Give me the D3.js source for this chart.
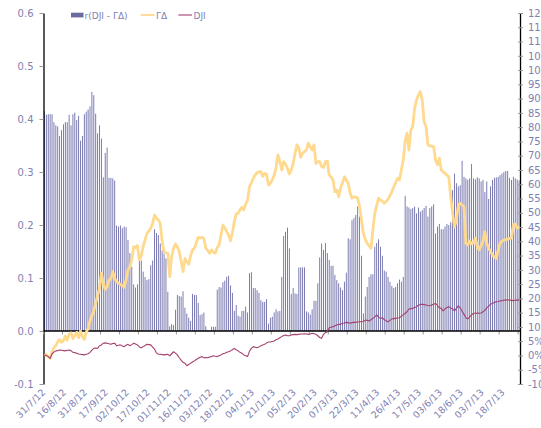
<!DOCTYPE html>
<html><head><meta charset="utf-8">
<script src="https://cdn.jsdelivr.net/npm/d3@7"></script>
<style>
html,body{margin:0;padding:0;background:#fff;}
svg{display:block;}
text{font-family:"DejaVu Sans",sans-serif;fill:#7f7fb2;}
</style></head><body>
<svg id="c" width="541" height="428"></svg>
<script>
// r(DJI - ΓΔ), left axis
const corr=[0.415,0.408,0.409,0.409,0.409,0.394,0.388,0.386,0.368,0.379,
0.39,0.394,0.394,0.408,0.388,0.409,0.412,0.398,0.406,0.359,
0.368,0.409,0.414,0.418,0.424,0.451,0.445,0.41,0.373,0.388,
0.363,0.29,0.336,0.346,0.289,0.289,0.288,0.284,0.199,0.197,
0.199,0.194,0.197,0.196,0.172,0.147,0.121,0.088,0.082,0.088,
0.14,0.133,0.112,0.102,0.096,0.098,0.124,0.133,0.192,0.185,
0.181,0.165,0.152,0.146,0.137,0.074,0.009,0.013,0.011,0.04,
0.068,0.066,0.065,0.075,0.044,0.033,0.025,0.019,0.07,0.068,
0.068,0.053,0.03,0.032,0.035,0.009,0.002,0.001,0.008,0.008,
0.008,0.078,0.083,0.082,0.092,0.095,0.102,0.104,0.086,0.072,
0.038,0.049,0.029,0.027,0.038,0.038,0.046,0.035,0.109,0.111,
0.081,0.081,0.077,0.072,0.058,0.055,0.055,0.06,0.014,0.025,
0.027,0.035,0.041,0.037,0.038,0.102,0.179,0.187,0.195,0.156,
0.07,0.081,0.071,0.07,0.12,0.12,0.12,0.12,0.037,0.035,
0.031,0.041,0.057,0.057,0.09,0.139,0.165,0.153,0.166,0.147,
0.134,0.123,0.123,0.106,0.096,0.09,0.082,0.077,0.093,0.11,
0.175,0.173,0.209,0.213,0.219,0.235,0.216,0.142,0.033,0.065,
0.083,0.102,0.107,0.107,0.159,0.166,0.173,0.159,0.142,0.114,
0.112,0.102,0.093,0.085,0.081,0.083,0.09,0.097,0.093,0.102,
0.255,0.235,0.233,0.23,0.232,0.235,0.222,0.233,0.225,0.228,
0.232,0.236,0.216,0.232,0.235,0.239,0.184,0.197,0.202,0.192,
0.192,0.197,0.202,0.2,0.205,0.266,0.297,0.279,0.273,0.275,
0.321,0.291,0.288,0.285,0.288,0.315,0.288,0.286,0.29,0.288,
0.282,0.285,0.262,0.282,0.249,0.273,0.285,0.289,0.29,0.291,
0.294,0.297,0.3,0.302,0.302,0.289,0.285,0.291,0.288,0.286,
0.284];
// ΓΔ cumulative return %, right axis
const gd=[0,0.3,-0.5,-1.0,1.2,2.8,3.4,4.8,5.6,4.6,
5.2,6.8,5.4,7.4,7.9,5.9,6.9,8.1,6.2,8.5,
6.6,5.6,8.2,9.4,12.2,14.0,15.6,18.4,21.0,23.5,
28.8,25.2,23.2,24.0,26.4,26.8,29.4,27.0,25.8,25.5,
24.8,24.5,23.9,26.5,30.0,31.0,33.5,38.1,37.8,38.5,
33.5,35.0,38.1,40.5,42.8,43.5,44.6,46.3,49.2,48.1,
47.5,46.3,40.0,36.4,36.0,35.8,27.6,34.6,37.5,39.1,
38.0,36.5,32.9,29.4,34.0,32.9,32.0,35.0,37.0,37.6,
39.5,41.4,41.2,41.4,41.0,37.6,36.8,35.8,37.0,36.2,
35.8,37.8,38.7,42.2,45.7,44.6,43.4,42.2,40.2,43.0,
46.9,49.6,49.8,51.0,51.9,51.0,53.0,54.5,59.1,60.5,
62.1,63.2,64.1,64.3,64.4,62.7,63.8,63.5,59.7,60.3,
61.5,63.2,65.6,70.3,67.9,65.0,67.9,67.0,65.6,63.6,
65.0,67.3,70.8,73.8,72.6,69.4,70.8,71.5,72.0,74.4,
73.0,72.0,73.8,67.3,67.9,67.9,66.2,65.9,67.9,68.1,
63.2,62.6,61.5,57.4,58.0,55.6,58.6,60.5,62.6,61.5,
60.3,57.0,55.1,55.6,55.6,55.1,52.1,47.5,42.8,40.7,
39.3,38.5,37.6,44.0,49.8,52.5,55.1,54.5,54.0,53.3,
54.0,54.7,56.0,57.4,59.1,60.5,62.1,61.5,65.0,68.5,
75.0,77.9,72.0,79.0,80.2,86.6,89.5,91.3,92.4,89.5,
81.9,80.2,73.8,73.4,73.4,73.2,68.5,66.8,69.1,65.0,
64.4,63.8,63.2,62.6,55.6,49.8,45.1,47.5,52.7,53.3,
52.7,52.1,39.3,38.7,40.1,39.1,39.5,41.1,38.1,37.0,
38.5,39.9,43.4,39.3,37.5,36.4,35.2,34.5,34.0,37.0,
39.3,40.0,40.5,40.5,40.8,41.0,41.1,45.7,46.1,44.6,
45.2];
// DJI cumulative return %, right axis
const dji=[0.2,0.0,-0.4,-1.0,0.6,1.2,1.6,1.7,1.9,1.8,
1.7,1.6,1.8,1.9,1.7,1.1,1.0,0.8,0.5,0.4,
0.3,0.2,0.4,0.6,1.1,1.9,2.5,2.6,2.5,3.4,
3.7,4.3,4.4,4.3,4.1,3.9,4.2,4.3,3.4,3.6,
3.7,3.3,3.1,3.6,3.9,3.4,3.8,4.3,4.0,3.7,
3.0,2.7,3.1,3.5,3.9,3.8,3.7,2.9,2.2,0.9,
0.4,0.4,0.3,0.2,0.3,0.4,-0.1,0.6,1.3,0.8,
0.2,-0.8,-1.6,-2.4,-2.7,-3.6,-3.2,-2.7,-2.3,-1.9,
-1.4,-1.0,-0.6,-0.4,-0.8,-0.7,-0.8,-0.5,-0.4,-0.1,
-0.3,-0.4,-0.1,0.2,0.6,0.8,1.1,1.3,1.6,2.0,
2.5,2.0,1.6,1.1,0.8,0.2,-0.1,-0.4,1.5,2.5,
3.1,2.9,2.7,3.0,3.4,3.7,3.9,4.4,4.7,4.7,
4.9,5.1,5.5,5.8,6.2,6.6,7.0,7.2,6.9,6.9,
7.2,7.3,7.4,7.3,7.4,7.5,7.5,7.6,7.5,7.4,
7.5,7.8,7.6,7.4,6.9,6.3,6.0,7.4,8.0,8.3,
9.7,9.9,10.1,10.4,10.7,10.9,10.9,11.3,11.4,11.6,
11.5,11.3,11.5,11.6,11.6,11.7,11.8,11.8,11.9,12.4,
12.3,12.1,12.5,13.0,13.5,14.2,13.4,13.0,13.2,12.6,
12.1,11.8,12.3,12.8,12.9,13.0,13.1,13.2,13.8,14.2,
14.8,15.3,16.3,16.4,16.5,16.8,17.1,17.6,17.9,17.9,
17.8,17.7,17.5,17.4,17.7,17.9,18.3,17.5,16.7,16.5,
15.6,16.3,16.8,17.1,16.6,16.3,15.6,16.5,17.4,16.7,
15.5,14.4,13.2,12.8,13.5,14.2,14.8,14.8,14.9,14.8,
14.9,15.3,15.8,16.7,17.3,17.9,18.3,18.6,18.8,18.9,
19.1,19.2,19.4,19.4,19.5,19.4,19.3,19.2,19.4,19.4,
19.4];
const tickLabels=["31/7/12","16/8/12","31/8/12","17/9/12","02/10/12","17/10/12","01/11/12","16/11/12","03/12/12","18/12/12","04/1/13","21/1/13","05/2/13","20/2/13","07/3/13","22/3/13","11/4/13","26/4/13","17/5/13","03/6/13","18/6/13","03/7/13","18/7/13"];
const labelEvery=11, tickEvery=10;
const leftTicks=[-0.1,0,0.1,0.2,0.3,0.4,0.5,0.6];
const rightTicks=[-10,-5,0,5,10,15,20,25,30,35,40,45,50,55,60,65,70,75,80,85,90,95,100,105,110,115,120];
const seriesNames=["r(DJI - ΓΔ)","ΓΔ","DJI"];

const L=43.5,R=520,T=13,B=384;
const svg=d3.select("#c");
const idx=d3.range(corr.length);
const pi=0.54;
const x=d3.scaleBand().domain(idx).range([L,R]).paddingInner(pi).paddingOuter(pi/2);
const yL=d3.scaleLinear().domain([-0.1,0.6]).range([B,T]);
const yR=d3.scaleLinear().domain([-10,120]).range([B,T]);
const cx=i=>x(i)+x.bandwidth()/2;

// bars
svg.append("g").selectAll("rect").data(corr).join("rect")
  .attr("x",(d,i)=>x(i)).attr("width",x.bandwidth())
  .attr("y",d=>yL(Math.max(0,d))).attr("height",d=>Math.abs(yL(d)-yL(0)))
  .attr("fill","#6a6aa8");

// left axis
const gl=svg.append("g").attr("transform",`translate(${L},0)`)
  .call(d3.axisLeft(yL).tickValues(leftTicks).tickFormat(d=>d.toFixed(1)).tickSize(4).tickSizeOuter(0).tickPadding(6));
gl.select(".domain").attr("stroke","#000").attr("stroke-width",1.3);
gl.selectAll(".tick line").attr("stroke","#999");
gl.selectAll("text").attr("font-size",10).attr("fill","#7f7fb2").attr("font-family","DejaVu Sans");

// right axis
const gr=svg.append("g").attr("transform",`translate(${R},0)`)
  .call(d3.axisRight(yR).tickValues(rightTicks).tickFormat(d=>d+"%").tickSize(3).tickSizeOuter(0).tickPadding(5));
gr.select(".domain").attr("stroke","#000").attr("stroke-width",1.3);
gr.selectAll(".tick line").attr("stroke","#999").attr("x1",-2);
gr.selectAll("text").attr("font-size",10).attr("fill","#7f7fb2").attr("font-family","DejaVu Sans");

// x axis at zero
const y0=yL(0);
const gx=svg.append("g");
const tickPos=d3.range(0,corr.length+1,tickEvery).map(k=>L+(R-L)*k/corr.length);
gx.selectAll("line.t").data(tickPos).join("line").attr("class","t")
  .attr("x1",d=>d).attr("x2",d=>d).attr("y1",y0).attr("y2",y0+3.5).attr("stroke","#999");
gx.append("line").attr("x1",L).attr("x2",R).attr("y1",y0).attr("y2",y0).attr("stroke","#000").attr("stroke-width",1.3);
gx.selectAll("text").data(tickLabels).join("text")
  .attr("transform",(d,k)=>`translate(${cx(k*labelEvery)+1.5},${y0+62}) rotate(-45)`)
  .attr("text-anchor","end").attr("font-size",9.5).text(d=>d);

// lines
svg.append("path").datum(gd)
  .attr("d",d3.line().x((d,i)=>cx(i)).y(d=>yR(d)))
  .attr("fill","none").attr("stroke","#ffd98e").attr("stroke-width",2.8).attr("stroke-linejoin","round");
svg.append("path").datum(dji)
  .attr("d",d3.line().x((d,i)=>cx(i)).y(d=>yR(d)))
  .attr("fill","none").attr("stroke","#a3416f").attr("stroke-width",1.1).attr("stroke-linejoin","round");

// legend
const lg=svg.append("g");
lg.append("rect").attr("x",71).attr("y",12.7).attr("width",12.5).attr("height",4.7).attr("fill","#6b6b9e");
lg.append("text").attr("x",84.5).attr("y",18.5).attr("font-size",9).text(seriesNames[0]);
lg.append("line").attr("x1",140.7).attr("x2",154.5).attr("y1",15).attr("y2",15).attr("stroke","#ffd98e").attr("stroke-width",1.8);
lg.append("text").attr("x",156).attr("y",18.5).attr("font-size",9).text(seriesNames[1]);
lg.append("line").attr("x1",178.3).attr("x2",192).attr("y1",15).attr("y2",15).attr("stroke","#a3416f").attr("stroke-width",1.1);
lg.append("text").attr("x",193.5).attr("y",18.5).attr("font-size",9).text(seriesNames[2]);
</script></body></html>
